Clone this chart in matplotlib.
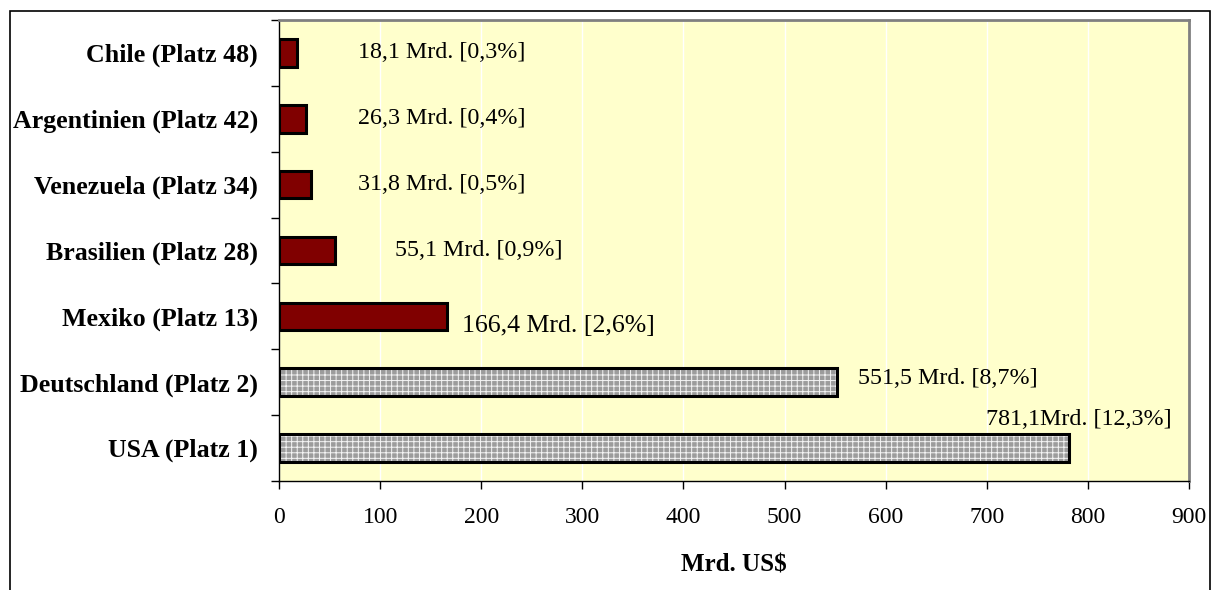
import matplotlib
matplotlib.use("Agg")
import matplotlib.pyplot as plt
from matplotlib.patches import Rectangle

categories = ["USA (Platz 1)", "Deutschland (Platz 2)", "Mexiko (Platz 13)",
              "Brasilien (Platz 28)", "Venezuela (Platz 34)",
              "Argentinien (Platz 42)", "Chile (Platz 48)"]
values = [781.1, 551.5, 166.4, 55.1, 31.8, 26.3, 18.1]
labels = ["781,1Mrd. [12,3%]", "551,5 Mrd. [8,7%]", "166,4 Mrd. [2,6%]",
          "55,1 Mrd. [0,9%]", "31,8 Mrd. [0,5%]", "26,3 Mrd. [0,4%]",
          "18,1 Mrd. [0,3%]"]
hatched = [True, True, False, False, False, False, False]
xticks = [0, 100, 200, 300, 400, 500, 600, 700, 800, 900]

plt.rcParams['font.family'] = ['Liberation Serif', 'DejaVu Serif']
plt.rcParams['hatch.linewidth'] = 0.7

W, H = 1216, 590
fig = plt.figure(figsize=(W / 100, H / 100), dpi=100)
ax = fig.add_axes([279 / W, 1 - 481 / H, 910 / W, 461 / H])
ax.set_facecolor('#FFFFCC')

ypos = list(range(len(categories)))
bh = 0.42
for y, v, h in zip(ypos, values, hatched):
    if h:
        ax.barh(y, v, height=bh, color='#9c9c9c', hatch='+++',
                edgecolor='#f4f4f4', linewidth=0, zorder=3)
        ax.barh(y, v, height=bh, fill=False, edgecolor='black',
                linewidth=2.2, zorder=4)
    else:
        ax.barh(y, v, height=bh, color='#800000', edgecolor='black',
                linewidth=2.2, zorder=4)

# label placement (x in data units, y offset in category units, size)
lab_x = [883, 573, 181, 115, 78, 78, 78]
lab_dy = [0.43, 0.06, -0.15, 0.0, 0.0, 0.0, 0.0]
lab_ha = ['right', 'left', 'left', 'left', 'left', 'left', 'left']
lab_fs = [17.3, 17.3, 18.6, 17.3, 17.3, 17.3, 17.3]
for y, t, lx, dy, ha, fs in zip(ypos, labels, lab_x, lab_dy, lab_ha, lab_fs):
    ax.text(lx, y + dy, t, ha=ha, va='center', fontsize=fs, zorder=5)

ax.set_xlim(0, 900)
ax.set_ylim(-0.5, len(categories) - 0.5)
ax.set_xticks(xticks)
ax.set_xticklabels([str(t) for t in xticks], fontsize=17)
ax.set_yticks(ypos)
ax.set_yticklabels(categories, fontsize=18.6, fontweight='bold')
ax.tick_params(axis='y', length=0, pad=15)
ax.set_yticks([y - 0.5 for y in ypos] + [len(categories) - 0.5], minor=True)
ax.tick_params(axis='y', which='minor', length=6, direction='out', width=1)
ax.tick_params(axis='x', length=6, direction='out', width=1, pad=13)
ax.xaxis.grid(True, color='white', linewidth=1)
ax.set_axisbelow(True)

for s in ['top', 'right']:
    ax.spines[s].set_color('#808080')
    ax.spines[s].set_linewidth(2)
for s in ['left', 'bottom']:
    ax.spines[s].set_color('black')
    ax.spines[s].set_linewidth(1)

ax.set_xlabel("Mrd. US\\$", fontsize=18, fontweight='bold', labelpad=18)

fig.patches.append(Rectangle((10 / W, -0.05), 1200 / W, 1.05 - 11 / H,
                             transform=fig.transFigure, fill=False,
                             edgecolor='black', linewidth=1.2))

fig.savefig("out.png", dpi=100)
